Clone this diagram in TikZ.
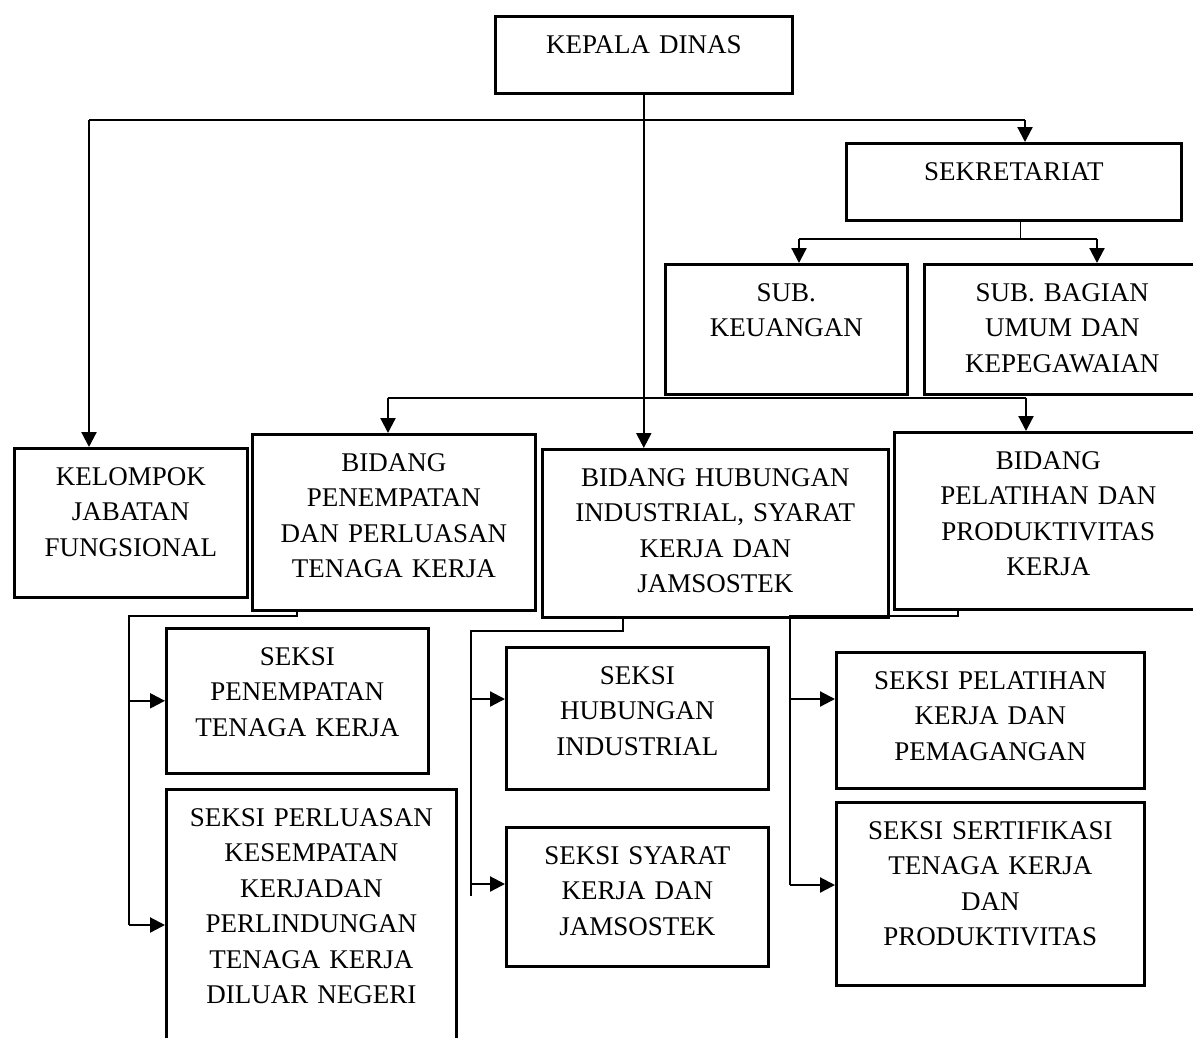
\documentclass[tikz,border=0pt]{standalone}
\usepackage{fontspec}
\setmainfont{Liberation Serif}
\usetikzlibrary{arrows.meta, positioning}

\begin{document}
\begin{tikzpicture}[x=1pt, y=-1pt,
    every node/.style={font=\fontsize{27pt}{35.5pt}\selectfont, align=center},
    unit/.style n args={2}{rectangle, draw, line width=2.6pt, inner sep=0pt, anchor=north west, text width=#1, text height=37pt, text depth=#2},
    arrow/.style={-{Triangle[length=15pt, width=15pt]}, line width=2.2pt},
    link/.style={line width=1.2pt}
]
\useasboundingbox (0,0) rectangle (1193,1037);
\clip (0,0) rectangle (1193,1037);

% Top
\node[unit={297pt}{40pt}] (kepala) at (494,15) {KEPALA DINAS};

% Sekretariat and its sub parts
\node[unit={335pt}{40pt}] (sekretariat) at (845,142) {SEKRETARIAT};
\node[unit={242pt}{93pt}] (subkeu) at (664,263) {SUB.\\KEUANGAN};
\node[unit={276pt}{93pt}] (subumum) at (923,263) {SUB. BAGIAN\\UMUM DAN\\KEPEGAWAIAN};

% Bidang row
\node[unit={233pt}{112pt}] (kelompok) at (13,447) {KELOMPOK\\JABATAN\\FUNGSIONAL};
\node[unit={283pt}{139pt}] (bidpen) at (251,433) {BIDANG\\PENEMPATAN\\DAN PERLUASAN\\TENAGA KERJA};
\node[unit={346pt}{131pt}] (bidhub) at (541,448) {BIDANG HUBUNGAN\\INDUSTRIAL, SYARAT\\KERJA DAN\\JAMSOSTEK};
\node[unit={308pt}{140pt}] (bidlat) at (893,431) {BIDANG\\PELATIHAN DAN\\PRODUKTIVITAS\\KERJA};

% Seksi row
\node[unit={262pt}{108pt}] (seksipen) at (165,627) {SEKSI\\PENEMPATAN\\TENAGA KERJA};
\node[unit={290pt}{223pt}] (seksiluas) at (165,788) {SEKSI PERLUASAN\\KESEMPATAN\\KERJADAN\\PERLINDUNGAN\\TENAGA KERJA\\DILUAR NEGERI};
\node[unit={262pt}{105pt}] (seksihub) at (505,646) {SEKSI\\HUBUNGAN\\INDUSTRIAL};
\node[unit={262pt}{102pt}] (seksisyarat) at (505,826) {SEKSI SYARAT\\KERJA DAN\\JAMSOSTEK};
\node[unit={308pt}{99pt}] (seksilat) at (835,651) {SEKSI PELATIHAN\\KERJA DAN\\PEMAGANGAN};
\node[unit={308pt}{146pt}] (seksisert) at (835,801) {SEKSI SERTIFIKASI\\TENAGA KERJA\\DAN\\PRODUKTIVITAS};

% Kepala Dinas down the middle
\draw[arrow] (kepala.south) -- (kepala.south |- bidhub.north);

% upper bus
\coordinate (busL) at (89,120);
\coordinate (busR) at (1025,120);
\draw[link] (busL) -- (busR);
\draw[arrow] (busL) -- (busL |- kelompok.north);
\draw[arrow] (busR) -- (busR |- sekretariat.north);

% Sekretariat to sub parts
\coordinate (subL) at (799,239);
\coordinate (subR) at (1097,239);
\draw[link] ([xshift=6.5pt]sekretariat.south) -- ([xshift=6.5pt]sekretariat.south |- subL);
\draw[link] (subL) -- (subR);
\draw[arrow] (subL) -- (subL |- subkeu.north);
\draw[arrow] (subR) -- (subR |- subumum.north);

% lower bus
\coordinate (midL) at (388,398);
\coordinate (midR) at (1026,398);
\draw[link] (midL) -- (midR);
\draw[arrow] (midL) -- (midL |- bidpen.north);
\draw[arrow] (midR) -- (midR |- bidlat.north);

% Bidang Penempatan to its seksi
\coordinate (penL) at (129,616);
\draw[link] (bidpen.south -| 297,0) |- (penL) -- (penL |- 0,925);
\draw[arrow] (penL |- seksipen.west) -- (seksipen.west);
\draw[arrow] (penL |- 0,925) -- (seksiluas.west |- 0,925);

% Bidang Hubungan to its seksi
\coordinate (hubL) at (471,631);
\draw[link] (bidhub.south -| 623,0) |- (hubL) -- (hubL |- 0,896);
\draw[arrow] (hubL |- 0,699) -- (seksihub.west |- 0,699);
\draw[arrow] (hubL |- 0,884) -- (seksisyarat.west |- 0,884);

% Bidang Pelatihan to its seksi
\coordinate (latL) at (790,616);
\draw[link] (bidlat.south -| 958,0) |- (latL) -- (latL |- 0,885);
\draw[arrow] (latL |- 0,699) -- (seksilat.west |- 0,699);
\draw[arrow] (latL |- 0,885) -- (seksisert.west |- 0,885);
\end{tikzpicture}
\end{document}
